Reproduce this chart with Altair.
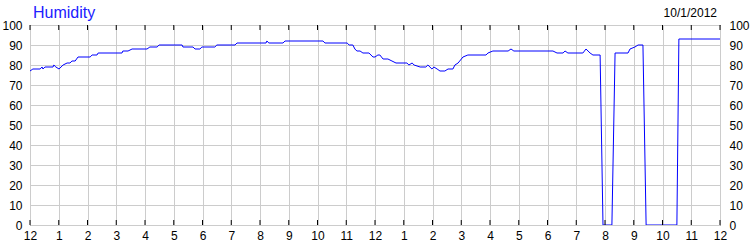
import altair as alt
import pandas as pd

# Humidity readings (hour of day, percent)
hours = [0.00, 0.10, 0.35, 0.42, 0.45, 0.52, 0.80, 0.83, 0.90, 1.01,
         1.15, 1.29, 1.39, 1.46, 1.57, 1.67, 2.09, 2.16, 2.33, 2.37,
         3.20, 3.23, 3.41, 3.55, 4.07, 4.17, 4.42, 4.49, 5.29, 5.32,
         5.67, 5.74, 5.91, 5.98, 6.43, 6.50, 7.13, 7.20, 8.21, 8.24,
         8.31, 8.80, 8.87, 10.19, 10.26, 11.03, 11.10, 11.23, 11.30, 11.37,
         11.48, 11.58, 11.79, 11.93, 12.00, 12.10, 12.17, 12.28, 12.45, 12.59,
         12.73, 13.11, 13.18, 13.29, 13.36, 13.57, 13.77, 13.84, 13.98, 14.05,
         14.16, 14.26, 14.43, 14.54, 14.71, 14.78, 14.89, 15.06, 15.23, 15.86,
         15.93, 16.10, 16.63, 16.73, 16.83, 18.19, 18.33, 18.54, 18.61, 18.71,
         19.23, 19.34, 19.48, 19.58, 19.83, 19.93, 20.24, 20.35, 20.80, 20.87,
         21.04, 21.15, 21.32, 21.43, 22.50, 22.57, 24.00]
humidity = [77, 78, 78, 79, 78, 79, 79, 80, 79, 78,
            80, 81, 81, 82, 82, 84, 84, 85, 85, 86,
            86, 87, 87, 88, 88, 89, 89, 90, 90, 89,
            89, 88, 88, 89, 89, 90, 90, 91, 91, 92,
            91, 91, 92, 92, 91, 91, 90, 90, 88, 87,
            87, 86, 86, 84, 84, 85, 85, 83, 83, 82,
            81, 81, 80, 81, 80, 79, 79, 80, 78, 79,
            78, 77, 77, 78, 78, 80, 81, 84, 85, 85,
            86, 87, 87, 88, 87, 87, 86, 86, 87, 86,
            86, 88, 86, 85, 85, 0, 0, 86, 86, 88,
            89, 90, 90, 0, 0, 93, 93]

x_ticks = list(range(0, 25))
y_ticks = [0, 10, 20, 30, 40, 50, 60, 70, 80, 90, 100]
chart_title = "Humidity"
date_label = "10/1/2012"

df = pd.DataFrame({"hour": hours, "humidity": humidity})
tick_df = pd.DataFrame({"hour": x_ticks})

FONT = "Liberation Sans"
GRID = "#cccccc"

x_scale = alt.Scale(domain=[0, 24], nice=False, zero=False)
y_scale = alt.Scale(domain=[0, 100], nice=False)

x_axis = alt.Axis(values=x_ticks, title=None, grid=True, gridColor=GRID,
                  domain=False, ticks=False, labelPadding=5,
                  labelExpr="datum.value % 12 == 0 ? '12' : '' + (datum.value % 12)",
                  labelFlush=False, labelOverlap=False)

line = alt.Chart(df).mark_line(color="#0000ff", strokeWidth=1, clip=True).encode(
    x=alt.X("hour:Q", scale=x_scale, axis=x_axis),
    y=alt.Y("humidity:Q", scale=y_scale,
            axis=alt.Axis(values=y_ticks, title=None, grid=True, gridColor=GRID,
                          domain=False, ticks=False, labelPadding=8)),
)

right_axis = alt.Chart(df).mark_line(opacity=0).encode(
    x=alt.X("hour:Q", scale=x_scale, axis=x_axis),
    y=alt.Y("humidity:Q", scale=y_scale,
            axis=alt.Axis(orient="right", values=y_ticks, title=None, grid=False,
                          domain=False, ticks=False, labelPadding=9)),
)

top_ticks = alt.Chart(tick_df).mark_rule(color="black", strokeWidth=1).encode(
    x=alt.X("hour:Q", scale=x_scale, axis=x_axis),
    y=alt.value(0), y2=alt.value(5),
)
bottom_ticks = alt.Chart(tick_df).mark_rule(color="black", strokeWidth=1).encode(
    x=alt.X("hour:Q", scale=x_scale, axis=x_axis),
    y=alt.value(195), y2=alt.value(200),
)

title_txt = alt.Chart(pd.DataFrame({"t": [chart_title]})).mark_text(
    font=FONT, fontSize=16, color="#2020ff", align="left", baseline="alphabetic"
).encode(text="t:N", x=alt.value(3), y=alt.value(-7))

date_txt = alt.Chart(pd.DataFrame({"t": [date_label]})).mark_text(
    font=FONT, fontSize=12, color="black", align="right", baseline="alphabetic"
).encode(text="t:N", x=alt.value(687), y=alt.value(-8))

chart = alt.layer(line, right_axis, top_ticks, bottom_ticks, title_txt, date_txt).resolve_axis(
    y="independent"
).properties(
    width=690, height=200,
    padding={"left": 30, "top": 25, "right": 30, "bottom": 25},
    autosize=alt.AutoSizeParams(type="none"),
    background="white",
).configure_view(
    stroke="black", strokeWidth=1
).configure_axis(
    labelFont=FONT, labelFontSize=12, labelColor="black"
)

chart.save("out.html", embed_options={"renderer": "svg", "actions": False})
